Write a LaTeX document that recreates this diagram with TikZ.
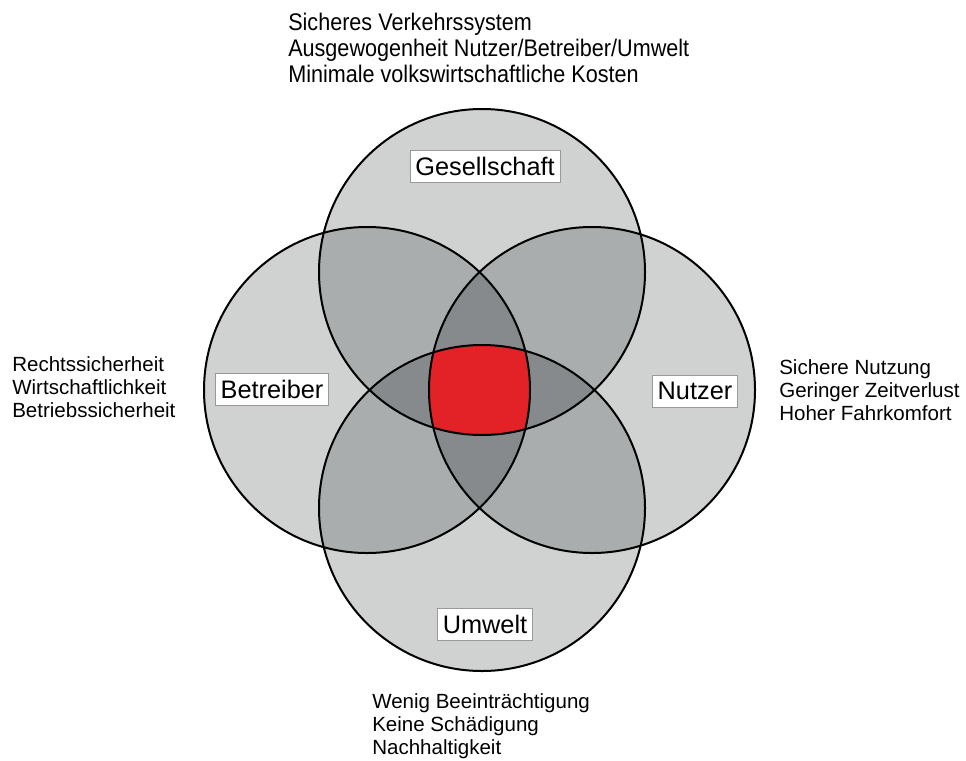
\documentclass[tikz,border=0pt]{standalone}
\usepackage{fontspec}
\setmainfont{Liberation Sans}
\newfontfamily\narrowfont[FakeStretch=0.9]{Liberation Sans}
\definecolor{ringfill}{RGB}{208,209,209}
\definecolor{pairfill}{RGB}{170,173,174}
\definecolor{tripfill}{RGB}{135,138,140}
\definecolor{corefill}{RGB}{227,34,39}

\begin{document}
\begin{tikzpicture}[x=0.75pt,y=-0.75pt,
	namebox/.style={draw=gray!80,fill=white,line width=0.6pt,inner xsep=4pt,inner ysep=0pt,minimum height=24pt,font=\fontsize{19}{22}\selectfont},
	goals/.style={align=left,anchor=west,inner sep=0pt,font=\fontsize{15.4}{17.3}\selectfont},
	ring/.style={draw=black,line width=1.5pt}]
	\useasboundingbox (0,0) rectangle (966,760);
	% centres of the four circles
	\coordinate (g) at (482,272);
	\coordinate (b) at (367,390);
	\coordinate (n) at (592,390);
	\coordinate (u) at (482,508);
	% single, double, triple and fourfold overlaps
	\foreach \c in {g,b,n,u}
		\fill[ringfill] (\c) circle (163);
	\foreach \p/\q in {g/b,g/n,g/u,b/n,b/u,n/u} {
		\begin{scope}
			\clip (\p) circle (163);
			\fill[pairfill] (\q) circle (163);
		\end{scope}
	}
	\foreach \p/\q/\s in {g/b/n,g/b/u,g/n/u,b/n/u} {
		\begin{scope}
			\clip (\p) circle (163);
			\clip (\q) circle (163);
			\fill[tripfill] (\s) circle (163);
		\end{scope}
	}
	\begin{scope}
		\clip (g) circle (163);
		\clip (b) circle (163);
		\clip (n) circle (163);
		\fill[corefill] (u) circle (163);
	\end{scope}
	\foreach \c in {g,b,n,u}
		\draw[ring] (\c) circle (163);
	% names
	\node[namebox] (ges) at (485,166) {Gesellschaft};
	\node[namebox] (bet) at (272,389) {Betreiber};
	\node[namebox] (nut) at (695,391) {Nutzer};
	\node[namebox] (umw) at (485,624) {Umwelt};
	% aims
	\node[goals,font=\narrowfont\fontsize{18}{19.5}\selectfont] (gz) at (288,48) {Sicheres Verkehrssystem\\Ausgewogenheit Nutzer/Betreiber/Umwelt\\Minimale volkswirtschaftliche Kosten};
	\node[goals] (bz) at (12,387) {Rechtssicherheit\\Wirtschaftlichkeit\\Betriebssicherheit};
	\node[goals] (nz) at (779,390) {Sichere Nutzung\\Geringer Zeitverlust\\Hoher Fahrkomfort};
	\node[goals] (uz) at (372,726) {Wenig Beeinträchtigung\\Keine Schädigung\\Nachhaltigkeit};
\end{tikzpicture}
\end{document}
